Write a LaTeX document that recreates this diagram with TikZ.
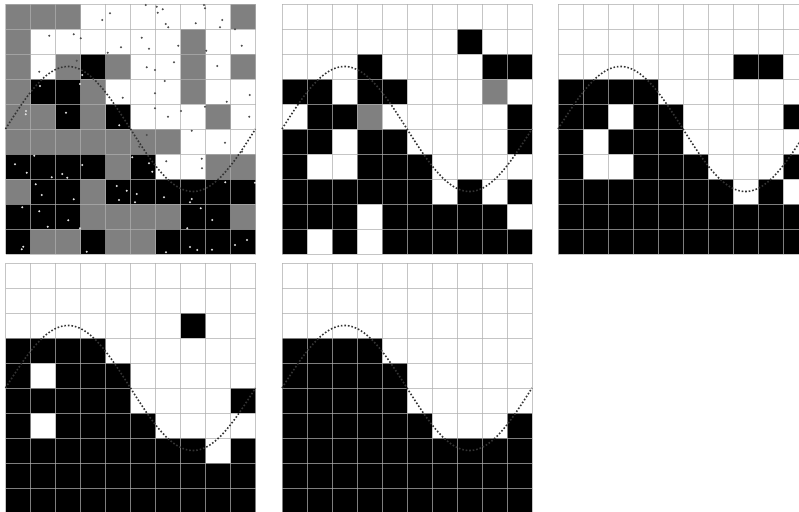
\documentclass[tikz,border=0pt]{standalone}

\definecolor{cW}{gray}{1}
\definecolor{cG}{gray}{0.5}
\definecolor{cB}{gray}{0}

\tikzset{
  gridline/.style={draw=black!31, draw opacity=0.72, line width=0.5pt},
  sinecurve/.style={draw=black!80, line width=0.9pt, dash pattern=on 0.9pt off 1.1pt},
  darkdot/.style={fill=black!70},
  lightdot/.style={fill=black!12},
}

% one 10x10 panel, rows given top to bottom
\newcommand{\gridpanel}[2]{%
  \begin{scope}[shift={#1}]
    \foreach \cellrow [count=\r] in {#2}
      \foreach \cellval [count=\k] in \cellrow
        \fill[c\cellval] ({\k-1},{10-\r}) rectangle ++(1,1);
    \foreach \i in {0,...,10} {
      \draw[gridline] (\i,0) -- (\i,10);
      \draw[gridline] (0,\i) -- (10,\i);
    }
    \draw[sinecurve] plot[domain=0:10, samples=150, smooth] (\x,{5+2.5*sin(36*\x)});
  \end{scope}}

\begin{document}
\begin{tikzpicture}[x=0.5cm, y=0.5cm]
  \fill[white] (0,0) rectangle (31.96,20.48);
  \useasboundingbox (0,0) rectangle (31.96,20.48);

  % sampled estimate
  \gridpanel{(0.22,10.32)}{
    {G,G,G,W,W,W,W,W,W,G},
    {G,W,W,W,W,W,W,G,W,W},
    {G,W,G,B,G,W,W,G,W,G},
    {G,B,B,G,W,W,W,G,W,W},
    {G,G,B,G,B,W,W,W,G,W},
    {G,G,G,G,G,G,G,W,W,W},
    {B,B,B,B,G,B,W,W,G,G},
    {G,B,B,G,B,B,B,B,B,B},
    {B,B,B,G,G,G,G,B,B,G},
    {B,G,G,B,G,G,B,B,B,B}}
  \begin{scope}[shift={(0.22,10.32)}]
    \foreach \u/\v in {3.87/9.36, 4.18/9.63, 5.61/9.96, 6.05/9.89, 6.29/9.79,
        6.09/9.65, 6.41/9.20, 6.51/9.07, 7.94/9.96, 7.98/9.83, 7.61/9.23,
        8.67/9.36, 8.58/9.07, 9.18/8.99, 1.75/8.73, 2.73/8.79, 3.01/8.63,
        4.62/8.27, 4.09/8.05, 5.45/8.65, 5.74/8.21, 6.91/8.33, 8.03/8.13,
        9.45/8.33, 2.85/7.73, 1.35/7.29, 5.65/7.47, 5.98/7.36, 6.74/7.67,
        8.47/7.52, 6.37/6.92, 5.98/6.43, 4.69/6.25, 8.85/6.09, 9.77/6.36,
        5.98/5.83, 6.50/5.49, 7.02/5.72, 7.98/5.89, 9.75/5.49, 5.65/4.76,
        5.35/4.29, 7.45/4.93, 8.78/4.45, 9.46/4.09, 6.43/3.71, 7.85/3.81,
        7.86/3.43}
      \fill[darkdot] (\u,\v) circle (0.6pt);
    \foreach \u/\v in {3.07/7.16, 1.38/6.72, 2.98/6.80, 0.82/5.72, 0.81/5.59,
        2.42/5.65, 4.55/5.15, 1.15/3.93, 0.38/3.59, 0.85/3.25, 1.85/3.07,
        2.27/3.20, 2.47/3.05, 3.07/3.56, 5.74/3.63, 5.87/3.29, 5.07/3.87,
        1.21/2.79, 1.45/2.36, 2.73/2.19, 4.45/2.72, 4.85/2.53, 5.25/2.40,
        4.54/2.16, 5.18/2.07, 6.34/2.27, 7.45/2.20, 7.38/2.07, 8.79/2.87,
        9.98/2.85, 0.67/1.87, 1.35/1.71, 1.69/1.09, 2.51/1.35, 2.98/1.03,
        7.81/1.83, 8.27/1.36, 7.27/1.03, 0.71/0.29, 0.65/0.19, 3.25/0.09,
        6.42/0.07, 7.38/0.28, 7.67/0.16, 8.26/0.17, 9.18/0.36, 9.66/0.56}
      \fill[lightdot] (\u,\v) circle (0.6pt);
  \end{scope}

  \gridpanel{(11.28,10.32)}{
    {W,W,W,W,W,W,W,W,W,W},
    {W,W,W,W,W,W,W,B,W,W},
    {W,W,W,B,W,W,W,W,B,B},
    {B,B,W,B,B,W,W,W,G,W},
    {W,B,B,G,W,W,W,W,W,B},
    {B,B,W,B,B,W,W,W,W,B},
    {B,W,W,B,B,B,W,W,W,W},
    {B,B,B,B,B,B,W,B,W,B},
    {B,B,B,W,B,B,B,B,B,W},
    {B,W,B,W,B,B,B,B,B,B}}

  \gridpanel{(22.32,10.32)}{
    {W,W,W,W,W,W,W,W,W,W},
    {W,W,W,W,W,W,W,W,W,W},
    {W,W,W,W,W,W,W,B,B,W},
    {B,B,B,B,W,W,W,W,W,W},
    {B,B,W,B,B,W,W,W,W,B},
    {B,W,B,B,B,W,W,W,W,W},
    {B,W,W,B,B,B,W,W,W,B},
    {B,B,B,B,B,B,B,W,B,W},
    {B,B,B,B,B,B,B,B,B,B},
    {B,B,B,B,B,B,B,B,B,B}}

  \gridpanel{(0.22,-0.04)}{
    {W,W,W,W,W,W,W,W,W,W},
    {W,W,W,W,W,W,W,W,W,W},
    {W,W,W,W,W,W,W,B,W,W},
    {B,B,B,B,W,W,W,W,W,W},
    {B,W,B,B,B,W,W,W,W,W},
    {B,B,B,B,B,W,W,W,W,B},
    {B,W,B,B,B,B,W,W,W,W},
    {B,B,B,B,B,B,B,B,W,B},
    {B,B,B,B,B,B,B,B,B,B},
    {B,B,B,B,B,B,B,B,B,B}}

  \gridpanel{(11.28,-0.04)}{
    {W,W,W,W,W,W,W,W,W,W},
    {W,W,W,W,W,W,W,W,W,W},
    {W,W,W,W,W,W,W,W,W,W},
    {B,B,B,B,W,W,W,W,W,W},
    {B,B,B,B,B,W,W,W,W,W},
    {B,B,B,B,B,W,W,W,W,W},
    {B,B,B,B,B,B,W,W,W,B},
    {B,B,B,B,B,B,B,B,B,B},
    {B,B,B,B,B,B,B,B,B,B},
    {B,B,B,B,B,B,B,B,B,B}}
\end{tikzpicture}
\end{document}
